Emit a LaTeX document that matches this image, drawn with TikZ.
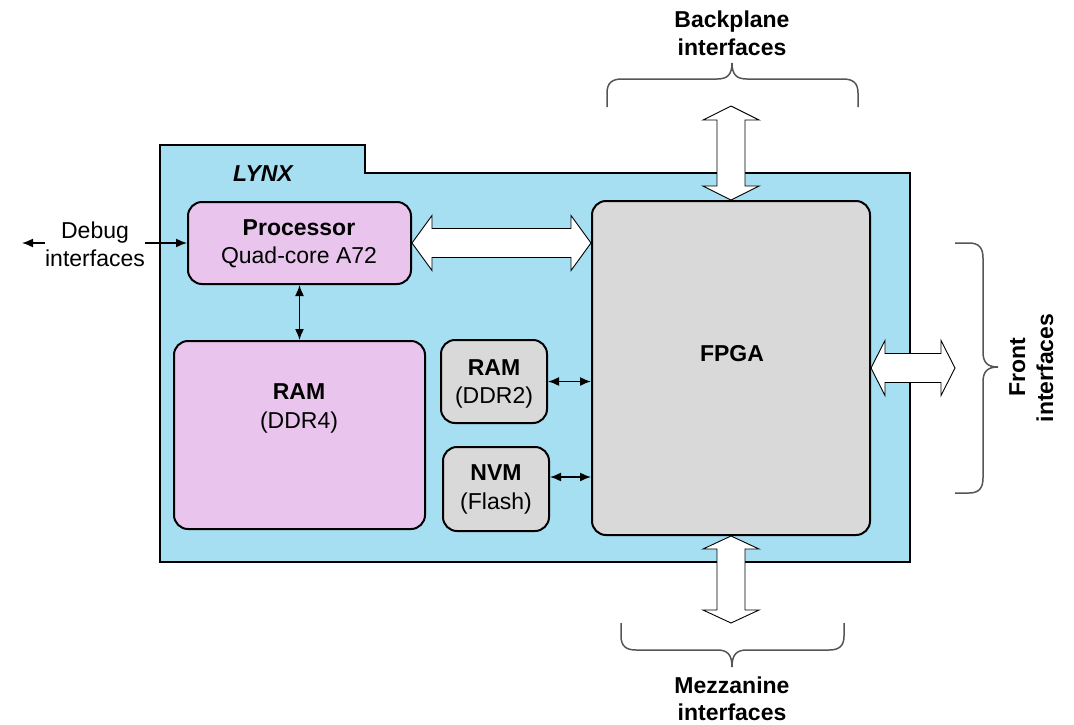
\documentclass[tikz,border=0pt]{standalone}
\usepackage{fontspec}
\setmainfont{Liberation Sans}
\usetikzlibrary{arrows.meta,calc}
\definecolor{lynxblue}{RGB}{166,222,242}
\definecolor{procpink}{RGB}{233,197,238}
\definecolor{boxgray}{RGB}{217,217,217}
\definecolor{bracegray}{RGB}{85,85,85}
\tikzset{
  txt/.style={inner sep=0pt,anchor=base,font=\fontsize{23}{28}\selectfont},
  btxt/.style={txt,font=\fontsize{23}{28}\selectfont\bfseries},
  blk/.style={draw=black,line width=2pt,rounded corners=14pt,inner sep=0pt},
  pinkbox/.style={blk,fill=procpink},
  graybox/.style={blk,fill=boxgray},
  arr/.style={line width=1.5pt,-{Latex[length=11pt,width=9pt]}},
  darr/.style={line width=1.5pt,{Latex[length=11pt,width=9pt]}-{Latex[length=11pt,width=9pt]}},
  fat/.style={draw=black,line width=0.9pt,fill=white,line join=miter},
  bracestyle/.style={draw=bracegray,line width=1.5pt},
}
\newcommand{\fatH}[3]{% head length, left point, right point
  \path[fat] let \p1=(#2), \p2=(#3) in
   (\x1,\y1) -- (\x1+#1,\y1+27.5pt) -- (\x1+#1,\y1+14.5pt) -- (\x2-#1,\y1+14.5pt)
   -- (\x2-#1,\y1+27.5pt) -- (\x2,\y1) -- (\x2-#1,\y1-27.5pt) -- (\x2-#1,\y1-14.5pt)
   -- (\x1+#1,\y1-14.5pt) -- (\x1+#1,\y1-27.5pt) -- cycle;}
\newcommand{\fatV}[3]{% head length, top point, bottom point
  \path[fat] let \p1=(#2), \p2=(#3) in
   (\x1,\y1) -- (\x1+28pt,\y1-#1) -- (\x1+14pt,\y1-#1) -- (\x1+14pt,\y2+#1)
   -- (\x1+28pt,\y2+#1) -- (\x1,\y2) -- (\x1-28pt,\y2+#1) -- (\x1-14pt,\y2+#1)
   -- (\x1-14pt,\y1-#1) -- (\x1-28pt,\y1-#1) -- cycle;}
\begin{document}
\begin{tikzpicture}[x=1pt,y=-1pt]
\useasboundingbox (0,0) rectangle (1074,724);

% LYNX board outline
\path[draw=black,line width=2pt,fill=lynxblue]
  (160,145) -- (365,145) -- (365,173) -- (910,173) -- (910,562) -- (160,562) -- cycle;
\node[txt,font=\fontsize{23}{28}\selectfont\bfseries\itshape] (lynx) at (263,181) {LYNX};

% blocks
\node[pinkbox,minimum width=223pt,minimum height=82pt] (proc) at (299.5,243) {};
\node[btxt] (procA) at (299,235) {Processor};
\node[txt] (procB) at (299,263) {Quad-core A72};

\node[pinkbox,minimum width=251pt,minimum height=188pt] (ram4) at (299.5,435) {};
\node[btxt] (ram4A) at (299,399) {RAM};
\node[txt] (ram4B) at (299,428) {(DDR4)};

\node[graybox,minimum width=106pt,minimum height=83pt] (ram2) at (494,381.5) {};
\node[btxt] (ram2A) at (494,375) {RAM};
\node[txt] (ram2B) at (494,403) {(DDR2)};

\node[graybox,minimum width=106pt,minimum height=84pt] (nvm) at (496,489) {};
\node[btxt] (nvmA) at (496,480) {NVM};
\node[txt] (nvmB) at (496,509) {(Flash)};

\node[graybox,minimum width=278pt,minimum height=334pt] (fpga) at (731,368) {};
\node[btxt] (fpgaT) at (732,361) {FPGA};

% thin connectors
\coordinate (nvmP) at ([yshift=12pt]nvm.east);
\draw[darr] (proc.south) -- (ram4.north);
\draw[darr] (ram2.east) -- (fpga.west |- ram2.east);
\draw[darr] (nvmP) -- (fpga.west |- nvmP);

% debug interfaces
\node[txt] (dbgA) at (95,238) {Debug};
\node[txt] (dbgB) at (95,266) {interfaces};
\coordinate (dbgtip) at (22,243);
\draw[arr] (dbgB.west |- proc.west) -- (dbgtip);
\draw[arr] (dbgB.east |- proc.west) -- (proc.west);

% fat arrows
\coordinate (bpTip) at (731,106);
\coordinate (mzTip) at (731,623);
\coordinate (frTip) at (955,368);
\fatH{20pt}{proc.east}{fpga.west |- proc.east}
\fatV{14pt}{bpTip}{fpga.north}
\fatV{13pt}{fpga.south}{mzTip}
\fatH{14pt}{fpga.east}{frTip}

% braces
\path[bracestyle] (607,107) -- (607,93) .. controls (607,83) and (612,79) .. (622,79)
  -- (717,79) .. controls (727,79) and (732,75) .. (732,63)
  .. controls (732,75) and (737,79) .. (747,79)
  -- (843,79) .. controls (853,79) and (858,83) .. (858,93) -- (858,107);
\path[bracestyle] (621,623) -- (621,636) .. controls (621,646) and (626,650) .. (636,650)
  -- (717,650) .. controls (727,650) and (732,654) .. (732,667)
  .. controls (732,654) and (737,650) .. (747,650)
  -- (829,650) .. controls (839,650) and (844,646) .. (844,636) -- (844,623);
\path[bracestyle] (955,243) -- (969,243) .. controls (979,243) and (983,248) .. (983,258)
  -- (983,352) .. controls (983,362) and (987,367) .. (998,367)
  .. controls (987,367) and (983,372) .. (983,382)
  -- (983,478) .. controls (983,488) and (979,493) .. (969,493) -- (955,493);

% interface labels
\node[btxt] (bpA) at (732,27) {Backplane};
\node[btxt] (bpB) at (732,55) {interfaces};
\node[btxt] (mzA) at (732,693) {Mezzanine};
\node[btxt] (mzB) at (732,720) {interfaces};
\node[btxt,rotate=90] (frA) at (1025,367) {Front};
\node[btxt,rotate=90] (frB) at (1053,368) {interfaces};
\end{tikzpicture}
\end{document}
